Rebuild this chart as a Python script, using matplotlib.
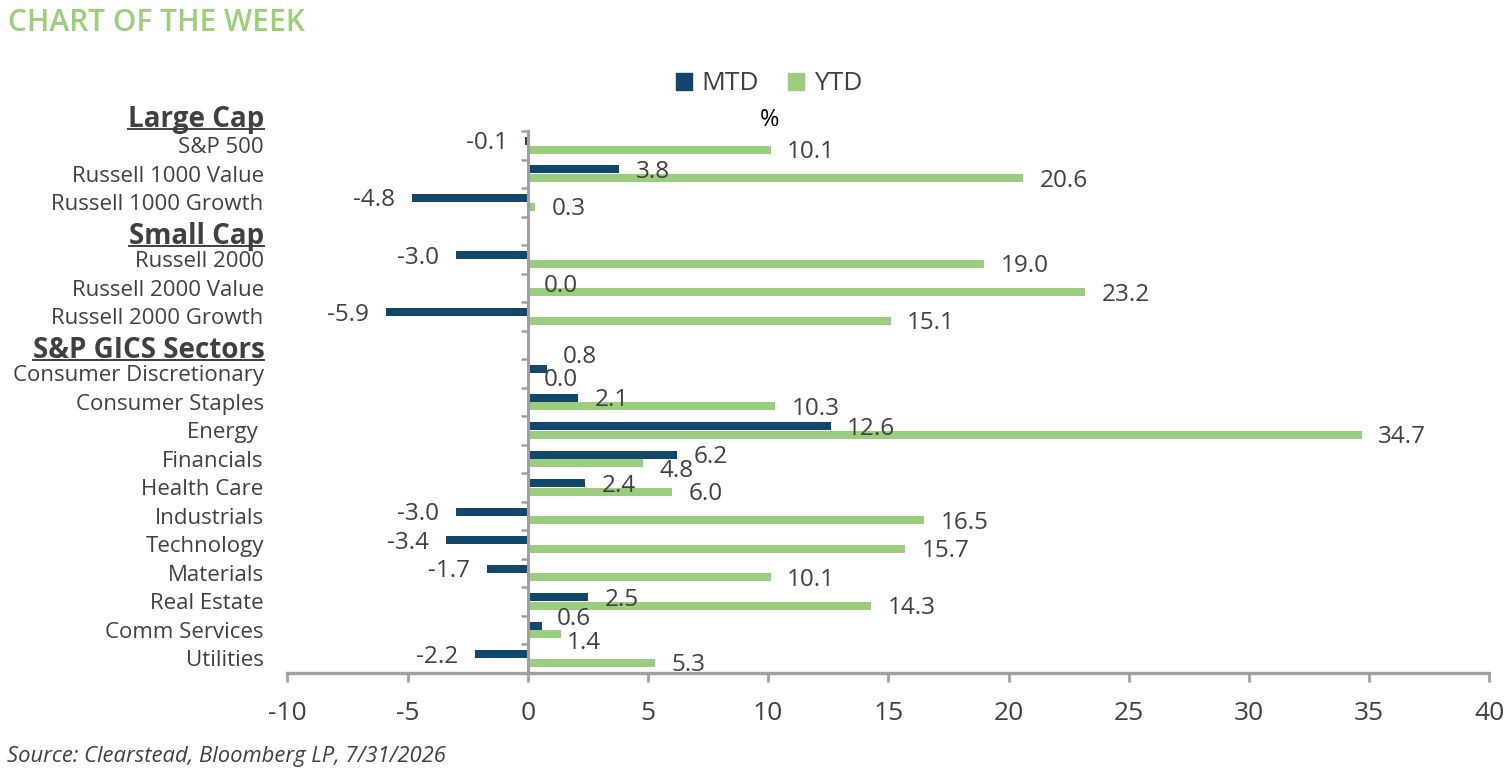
import numpy as np
import matplotlib
matplotlib.use("Agg")
import matplotlib.pyplot as plt
from matplotlib.lines import Line2D
from matplotlib.patches import Patch

# ---------------- data ----------------
categories = ["S&P 500", "Russell 1000 Value", "Russell 1000 Growth", "",
              "Russell 2000", "Russell 2000 Value", "Russell 2000 Growth", "",
              "Consumer Discretionary", "Consumer Staples", "Energy ", "Financials",
              "Health Care", "Industrials", "Technology", "Materials",
              "Real Estate", "Comm Services", "Utilities"]
mtd = [-0.1, 3.8, -4.8, np.nan, -3.0, 0.0, -5.9, np.nan,
       0.8, 2.1, 12.6, 6.2, 2.4, -3.0, -3.4, -1.7, 2.5, 0.6, -2.2]
ytd = [10.1, 20.6, 0.3, np.nan, 19.0, 23.2, 15.1, np.nan,
       0.0, 10.3, 34.7, 4.8, 6.0, 16.5, 15.7, 10.1, 14.3, 1.4, 5.3]
series_names = ["MTD", "YTD"]
headers = ["Large Cap", "Small Cap", "S&P GICS Sectors"]
x_ticks = [-10, -5, 0, 5, 10, 15, 20, 25, 30, 35, 40]
title = "CHART OF THE WEEK"
unit_label = "%"
source = "Source: Clearstead, Bloomberg LP, 7/31/2026"

# ---------------- style ----------------
NAVY = "#11476B"
GREEN = "#9ACD7E"
TITLE_GREEN = "#9BCF7C"
TXT = "#404040"
GRAY = "#A0A0A0"

plt.rcParams['font.family'] = ['Open Sans', 'DejaVu Sans']
plt.rcParams['axes.unicode_minus'] = False

W, H = 1510, 773
fig = plt.figure(figsize=(W / 100, H / 100), dpi=100)
L, R, T, B = 287.3, 1489.3, 131.0, 672.7
ax = fig.add_axes([L / W, 1 - B / H, (R - L) / W, (B - T) / H])

n = len(categories)
y = np.arange(n)
bh, off = 0.28, 0.15
ax.barh(y - off, mtd, height=bh, color=NAVY, zorder=2)
ax.barh(y + off, ytd, height=bh, color=GREEN, zorder=2)
ax.set_xlim(-10, 40)
ax.set_ylim(n - 0.5, -0.5)

# spines
ax.spines['top'].set_visible(False)
ax.spines['left'].set_visible(False)
ax.spines['right'].set_position(('data', 0))
ax.spines['right'].set_color(GRAY)
ax.spines['right'].set_linewidth(2.2)
ax.spines['right'].set_zorder(3)
ax.spines['bottom'].set_color(GRAY)
ax.spines['bottom'].set_linewidth(2.4)

# y ticks: labels at left, boundary ticks on the zero line
ax.set_yticks(y, categories)
ax.set_yticks(np.arange(-0.5, n, 1), minor=True)
ax.tick_params(axis='y', which='major', left=False, right=False,
               labelleft=True, labelright=False, pad=13.5,
               labelsize=16, labelcolor=TXT)
ax.tick_params(axis='y', which='minor', left=False, right=True,
               labelleft=False, labelright=False,
               direction='in', length=5, width=1.8, color=GRAY)

# x ticks
ax.set_xticks(x_ticks)
ax.set_xticklabels([str(t) for t in x_ticks])
ax.tick_params(axis='x', direction='out', length=6.5, width=2, color=GRAY,
               pad=14, labelsize=19, labelcolor=TXT)

# value labels
PX = 0.72  # px -> pt
nudges = {
    ("Consumer Discretionary", "MTD"): (16.0, -12.0),
    ("Comm Services", "MTD"): (15.0, -6.4),
    ("Comm Services", "YTD"): (5.0, 9.0),
    ("Financials", "YTD"): (16.0, 7.5),
}
for vals, name, sgn in ((mtd, "MTD", -1), (ytd, "YTD", 1)):
    for i, v in enumerate(vals):
        if np.isnan(v):
            continue
        yy = i + sgn * off
        dx, dy = nudges.get((categories[i], name), (16.5 if v >= 0 else -17.0, 2.5))
        if v < 0:
            dx = -abs(dx)
        ax.annotate(f"{v:.1f}", xy=(v, yy), xytext=(dx * PX, -dy * PX),
                    textcoords='offset points', ha='left' if v >= 0 else 'right',
                    va='center', fontsize=17.5, color=TXT, zorder=4)

# group headers
header_y = [-0.65, 3.46, 7.46]
header_txt = []
for h, hy in zip(headers, header_y):
    t = ax.text(-0.019, hy, h, transform=ax.get_yaxis_transform(),
                ha='right', va='baseline', fontsize=20, fontweight='bold',
                color=TXT, clip_on=False)
    header_txt.append(t)

# legend
handles = [Patch(color=NAVY), Patch(color=GREEN)]
fig.legend(handles, series_names, loc='center', bbox_to_anchor=(769 / W, 1 - 84 / H),
           ncol=2, frameon=False, fontsize=19, handlelength=0.62, handleheight=0.62,
           handletextpad=0.35, columnspacing=1.1, labelcolor=TXT)

fig.text(770 / W, 1 - 120 / H, unit_label, ha='center', va='center',
         fontsize=17, color='black')
fig.text(8 / W, 1 - 30.7 / H, title, ha='left', va='baseline', fontsize=21.5,
         fontweight='semibold', color=TITLE_GREEN)
fig.text(7 / W, 1 - 762 / H, source, ha='left', va='baseline', fontsize=15.8,
         style='italic', color=TXT)

# underline headers
fig.canvas.draw()
r = fig.canvas.get_renderer()
inv = fig.transFigure.inverted()
for t in header_txt:
    bb = t.get_window_extent(r)
    yb = t.get_transform().transform(t.get_position())[1]
    p0 = inv.transform((bb.x0, yb - 2.0))
    p1 = inv.transform((bb.x1, yb - 2.0))
    fig.add_artist(Line2D([p0[0], p1[0]], [p0[1], p1[1]], color=TXT, lw=1.4,
                          transform=fig.transFigure))

fig.savefig("out.png", dpi=100)
